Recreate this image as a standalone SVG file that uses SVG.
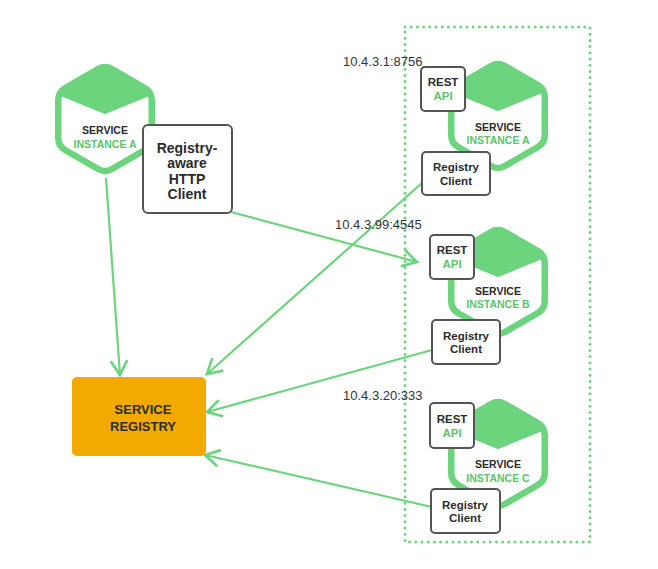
<svg xmlns="http://www.w3.org/2000/svg" xmlns:xlink="http://www.w3.org/1999/xlink" width="658" height="569" viewBox="0 0 658 569">
<style>
.hex{fill:#fff;stroke:#6dd47e;stroke-width:6.5;stroke-linejoin:round}
.cap{fill:#6dd47e;stroke:#6dd47e;stroke-width:2;stroke-linejoin:round}
.box{fill:#fff;stroke:#555;stroke-width:2}
.t{font-family:"Liberation Sans",Arial,sans-serif;font-weight:bold;text-anchor:middle;fill:#2b2b2b}
.g{fill:#5cc36b}
.s{font-size:10.5px}
.m{font-size:11.5px}
.ip{font-family:"Liberation Sans",Arial,sans-serif;font-size:13px;fill:#333}
.conn{stroke:#6dd47e;stroke-width:2.2;fill:none;marker-end:url(#arr)}
</style>
<defs>
<marker id="arr" markerUnits="userSpaceOnUse" markerWidth="20" markerHeight="20" viewBox="-15 -9 17 18" refX="0" refY="0" orient="auto">
<path d="M-13,-7.5 L0,0 L-13,7.5" fill="none" stroke="#6dd47e" stroke-width="2.4"/>
</marker>
<g id="hexshape">
<path class="hex" d="M-6.93,-50 Q0,-54 6.93,-50 L39.84,-31 Q46.77,-27 46.77,-19 L46.77,19 Q46.77,27 39.84,31 L6.93,50 Q0,54 -6.93,50 L-39.84,31 Q-46.77,27 -46.77,19 L-46.77,-19 Q-46.77,-27 -39.84,-31 Z"/>
<path class="cap" d="M-6.93,-50 Q0,-54 6.93,-50 L39.84,-31 Q46.77,-27 44,-24 L0,-6 L-44,-24 Q-46.77,-27 -39.84,-31 Z"/>
</g>
</defs>

<rect x="405" y="27" width="185" height="515" fill="none" stroke="#6dd47e" stroke-width="3" stroke-linecap="round" stroke-dasharray="0 6.2"/>

<g id="connectors">
<line class="conn" x1="106" y1="178" x2="120" y2="375"/>
<line class="conn" x1="231" y1="212" x2="417" y2="262"/>
<line class="conn" x1="422" y1="183" x2="207" y2="374"/>
<line class="conn" x1="432" y1="350" x2="207" y2="412"/>
<line class="conn" x1="432" y1="507" x2="205" y2="455"/>
</g>

<g id="serviceA-left">
<use xlink:href="#hexshape" transform="translate(105,119)"/>
<text class="t s" x="105" y="134">SERVICE</text>
<text class="t s g" x="105" y="148">INSTANCE A</text>
</g>

<g id="http-client">
<rect class="box" x="143" y="125" width="89" height="88" rx="5"/>
<text class="t" style="font-size:14px" x="187" y="153">Registry-</text>
<text class="t" style="font-size:14px" x="187" y="168">aware</text>
<text class="t" style="font-size:14px" x="187" y="184">HTTP</text>
<text class="t" style="font-size:14px" x="187" y="199">Client</text>
</g>

<g id="registry">
<rect x="72" y="377" width="134" height="79" rx="5" fill="#f2a900"/>
<text class="t" style="font-size:13px" x="143" y="414">SERVICE</text>
<text class="t" style="font-size:13px" x="143" y="431">REGISTRY</text>
</g>

<g id="instanceA">
<text class="ip" x="343" y="66">10.4.3.1:8756</text>
<use xlink:href="#hexshape" transform="translate(498,116)"/>
<text class="t s" x="498" y="131">SERVICE</text>
<text class="t s g" x="498" y="144">INSTANCE A</text>
<rect class="box" x="421" y="67" width="44" height="44" rx="4"/>
<text class="t m" x="443" y="86">REST</text>
<text class="t m g" x="443" y="100">API</text>
<rect class="box" x="422" y="152" width="68" height="43" rx="4"/>
<text class="t m" x="456" y="171">Registry</text>
<text class="t m" x="456" y="185">Client</text>
</g>

<g id="instanceB">
<text class="ip" x="335" y="229">10.4.3.99:4545</text>
<use xlink:href="#hexshape" transform="translate(498,282)"/>
<text class="t s" x="498" y="295">SERVICE</text>
<text class="t s g" x="498" y="308">INSTANCE B</text>
<rect class="box" x="430" y="235" width="44" height="44" rx="4"/>
<text class="t m" x="452" y="254">REST</text>
<text class="t m g" x="452" y="268">API</text>
<rect class="box" x="432" y="320" width="68" height="44" rx="4"/>
<text class="t m" x="466" y="340">Registry</text>
<text class="t m" x="466" y="353">Client</text>
</g>

<g id="instanceC">
<text class="ip" x="343" y="400">10.4.3.20:333</text>
<use xlink:href="#hexshape" transform="translate(498,454)"/>
<text class="t s" x="498" y="468">SERVICE</text>
<text class="t s g" x="498" y="482">INSTANCE C</text>
<rect class="box" x="430" y="403" width="44" height="45" rx="4"/>
<text class="t m" x="452" y="423">REST</text>
<text class="t m g" x="452" y="437">API</text>
<rect class="box" x="431" y="489" width="69" height="44" rx="4"/>
<text class="t m" x="465" y="509">Registry</text>
<text class="t m" x="465" y="522">Client</text>
</g>
</svg>
